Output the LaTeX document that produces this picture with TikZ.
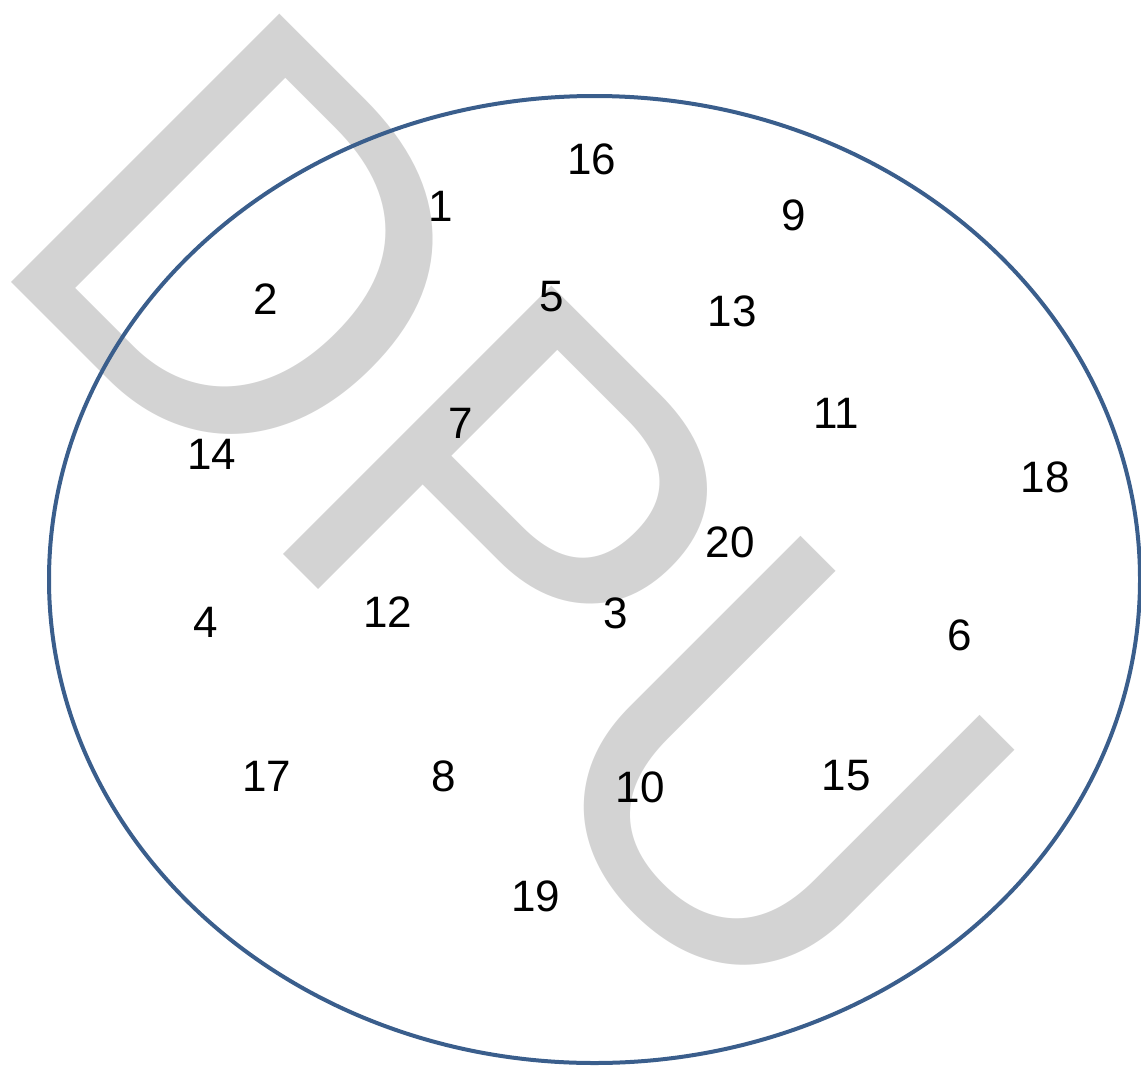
\documentclass[tikz,border=0pt]{standalone}
\usepackage{fontspec}
\setmainfont{Liberation Sans}
\newfontfamily\wmfont{Liberation Sans}
\definecolor{ringblue}{RGB}{58,94,140}
\definecolor{wmgray}{RGB}{211,211,211}
\begin{document}
\begin{tikzpicture}[x=1pt,y=-1pt,
  num/.style={font=\fontsize{44}{44}\selectfont, inner sep=0pt, text=black},
  wm/.style={rotate=-45, yscale=1.035, anchor=base west, inner sep=0pt, text=wmgray,
             font=\wmfont\fontsize{533}{533}\selectfont},
  ring/.style={draw=ringblue, line width=4}]
\useasboundingbox (0,0) rectangle (1141,1066);
\node[wm] (watermark) at (-19.8,251.7) {DPU};
\draw[ring] (594.5,579.5) ellipse [x radius=545.5, y radius=483.5];
\node[num] (n1)  at (441,206) {1};
\node[num] (n2)  at (266,299) {2};
\node[num] (n3)  at (616,613) {3};
\node[num] (n4)  at (206,622) {4};
\node[num] (n5)  at (552,297) {5};
\node[num] (n6)  at (960,635) {6};
\node[num] (n7)  at (461,423) {7};
\node[num] (n8)  at (444,776) {8};
\node[num] (n9)  at (794,215) {9};
\node[num] (n10) at (640,787) {10};
\node[num] (n11) at (836,413) {11};
\node[num] (n12) at (388,612) {12};
\node[num] (n13) at (732,311) {13};
\node[num] (n14) at (212,454) {14};
\node[num] (n15) at (846,776) {15};
\node[num] (n16) at (592,159) {16};
\node[num] (n17) at (267,776) {17};
\node[num] (n18) at (1045,477) {18};
\node[num] (n19) at (536,896) {19};
\node[num] (n20) at (730,542) {20};
\end{tikzpicture}
\end{document}
